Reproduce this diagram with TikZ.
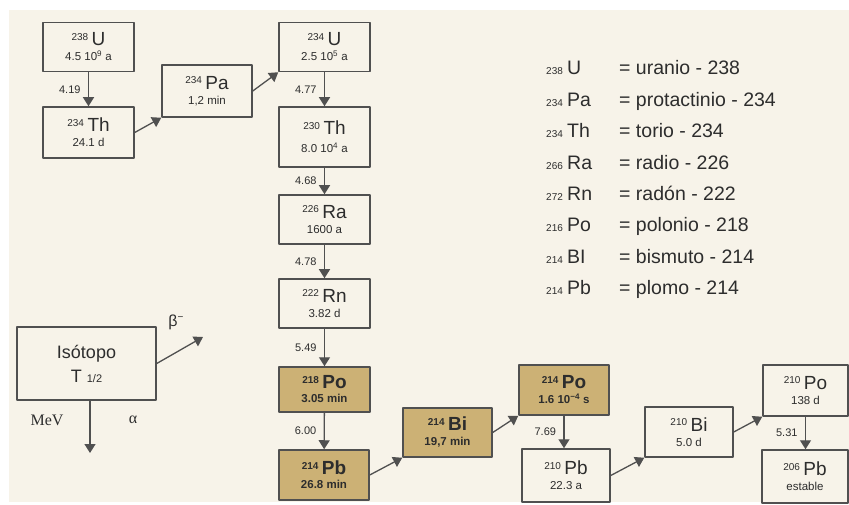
\documentclass[tikz,border=0pt]{standalone}
\usepackage{fontspec}
\setmainfont{Liberation Sans}
\newfontfamily\serifmev{Liberation Serif}
\usetikzlibrary{arrows.meta}
\definecolor{cream}{RGB}{247,243,233}
\definecolor{khaki}{RGB}{204,177,117}
\definecolor{linegray}{RGB}{80,80,80}
\definecolor{ink}{RGB}{45,45,45}
% mass number + symbol, and the half-life line
\newcommand{\nuc}[2]{\raisebox{5.5pt}{\fontsize{10}{10}\selectfont #1}\hspace{3.5pt}{\fontsize{19}{19}\selectfont #2}}
\newcommand{\hlife}[1]{{\fontsize{11.5}{12}\selectfont #1}}
\tikzset{
  box/.style={draw=linegray,line width=1.5pt,minimum width=91pt,minimum height=49pt,inner sep=0pt,align=center,text=ink},
  hot/.style={box,fill=khaki,font=\bfseries},
  decay/.style={-{Triangle[width=11pt,length=9pt]},line width=1.3pt,draw=linegray},
  elab/.style={left,xshift=-4pt,text=ink,font=\fontsize{11}{11}\selectfont},
  legtext/.style={anchor=base west,inner sep=0pt,text=ink}
}
\begin{document}
\begin{tikzpicture}[line cap=round,line join=round,x=1pt,y=-1pt]
	\useasboundingbox (0,0) rectangle (849,505);
	\fill[cream] (9,10) rectangle (849,502);
	% first column
	\node[box] (u238) at (88.5,47) {\nuc{238}{U}\\[3pt]\hlife{4.5 10\textsuperscript{9} a}};
	\node[box,minimum height=51pt] (th234) at (88.5,132.5) {\nuc{234}{Th}\\[3pt]\hlife{24.1 d}};
	\node[box,minimum width=90pt,minimum height=52pt] (pa234) at (207,91) {\nuc{234}{Pa}\\[3pt]\hlife{1,2 min}};
	% main column
	\node[box] (u234) at (324.5,47) {\nuc{234}{U}\\[3pt]\hlife{2.5 10\textsuperscript{5} a}};
	\node[box,minimum height=60pt] (th230) at (324.5,137) {\nuc{230}{Th}\\[6pt]\hlife{8.0 10\textsuperscript{4} a}};
	\node[box] (ra226) at (324.5,219.5) {\nuc{226}{Ra}\\[3pt]\hlife{1600 a}};
	\node[box] (rn222) at (324.5,303.5) {\nuc{222}{Rn}\\[3pt]\hlife{3.82 d}};
	\node[hot,minimum height=45pt] (po218) at (324.5,389.5) {\nuc{218}{Po}\\[2pt]\hlife{3.05 min}};
	\node[hot,minimum width=90pt,minimum height=50pt] (pb214) at (324,475) {\nuc{214}{Pb}\\[2pt]\hlife{26.8 min}};
	% lower row
	\node[hot,minimum width=89pt] (bi214) at (447.5,432.5) {\nuc{214}{Bi}\\[3pt]\hlife{19,7 min}};
	\node[hot,minimum width=90pt,minimum height=50pt] (po214) at (564,390) {\nuc{214}{Po}\\[3pt]\hlife{1.6 10\textsuperscript{−4} s}};
	\node[box,minimum width=88pt,minimum height=53pt] (pb210) at (566,475.5) {\nuc{210}{Pb}\\[3pt]\hlife{22.3 a}};
	\node[box,minimum width=88pt,minimum height=50pt] (bi210) at (689,432) {\nuc{210}{Bi}\\[3pt]\hlife{5.0 d}};
	\node[box,minimum width=85pt,minimum height=51pt] (po210) at (805.5,390.5) {\nuc{210}{Po}\\[3pt]\hlife{138 d}};
	\node[box,minimum width=86pt,minimum height=53pt] (pb206) at (805,476.5) {\nuc{206}{Pb}\\[3pt]\hlife{estable}};
	% alpha decays
	\draw[decay] (u238) -- node[elab] {4.19} (th234);
	\draw[decay] (u234) -- node[elab] {4.77} (th230);
	\draw[decay] (th230) -- node[elab] {4.68} (ra226);
	\draw[decay] (ra226) -- node[elab] {4.78} (rn222);
	\draw[decay] (rn222) -- node[elab] {5.49} (po218);
	\draw[decay] (po218) -- node[elab] {6.00} (pb214);
	\draw[decay] (po214.south) -- node[elab] {7.69} (po214.south |- pb210.north);
	\draw[decay] (po210.south) -- node[elab] {5.31} (po210.south |- pb206.north);
	% beta decays
	\draw[decay] (th234.east) -- (pa234.south west);
	\draw[decay] (pa234.east) -- (u234.south west);
	\draw[decay] (pb214.east) -- (bi214.south west);
	\draw[decay] (bi214.east) -- (po214.south west);
	\draw[decay] (pb210.east) -- (bi210.south west);
	\draw[decay] (bi210.east) -- (po210.south west);
	% key
	\node[box,minimum width=139pt,minimum height=73pt,font=\fontsize{18}{24}\selectfont] (key) at (86.5,363.5) {Isótopo\\T {\fontsize{11}{11}\selectfont 1/2}};
	\coordinate (betatip) at (203,337);
	\coordinate (alphatip) at (90,453);
	\draw[decay] (key.east) -- (betatip);
	\draw[decay] (key.south -| alphatip) -- (alphatip);
	\node[text=ink,font=\fontsize{16}{16}\selectfont] (betalab) at (176,322) {β\raisebox{6pt}{\fontsize{10}{10}\selectfont −}};
	\node[text=ink,font=\serifmev\fontsize{16}{16}\selectfont] (mevlab) at (47,420) {MeV};
	\node[text=ink,font=\serifmev\fontsize{16}{16}\selectfont] (alphalab) at (133,420) {α};
	% legend
	\foreach \m/\s/\t [count=\i] in {238/U/uranio - 238,234/Pa/protactinio - 234,234/Th/torio - 234,266/Ra/radio - 226,272/Rn/radón - 222,216/Po/polonio - 218,214/BI/bismuto - 214,214/Pb/plomo - 214}{
		\node[legtext,font=\fontsize{10}{10}\selectfont] (lm\i) at (546,75+31.4*\i-31.4) {\m};
		\node[legtext,font=\fontsize{19.5}{19.5}\selectfont] (ls\i) at (567,75+31.4*\i-31.4) {\s};
		\node[legtext,font=\fontsize{19.5}{19.5}\selectfont] (lt\i) at (619,75+31.4*\i-31.4) {= \t};
	}
\end{tikzpicture}
\end{document}
